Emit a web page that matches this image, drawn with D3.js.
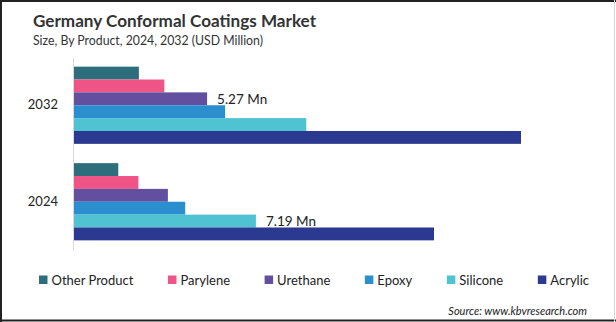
<!DOCTYPE html>
<html>
<head>
<meta charset="utf-8">
<script src="https://cdn.jsdelivr.net/npm/d3@7"></script>
<style>
  html, body { margin: 0; padding: 0; background: #fff; }
  svg { display: block; font-family: Lato, "Open Sans", sans-serif; }
</style>
</head>
<body>
<div id="chart"></div>
<script>
var width = 616;
var height = 322;

// data
var years = ["2032", "2024"];
var products = ["Other Product", "Parylene", "Urethane", "Epoxy", "Silicone", "Acrylic"];
var colors = ["#2d6e7d", "#ee5586", "#634f9f", "#2b8fcf", "#4fc3d2", "#2b3990"];
var values2032 = [2.59, 3.59, 5.27, 5.98, 9.17, 17.61];
var values2024 = [1.78, 2.57, 3.73, 4.41, 7.19, 14.19];
// which bar carries a label in each year
var labelIndex = { "2032": 2, "2024": 4 };

var svg = d3.select("#chart")
    .append("svg")
    .attr("width", width)
    .attr("height", height);

// frame
svg.append("line").attr("x1", 0).attr("x2", width).attr("y1", 1).attr("y2", 1)
    .attr("stroke", "#222").attr("stroke-width", 2);
svg.append("line").attr("x1", 1).attr("x2", 1).attr("y1", 0).attr("y2", height)
    .attr("stroke", "#222").attr("stroke-width", 2);
svg.append("line").attr("x1", 0).attr("x2", width).attr("y1", 320.5).attr("y2", 320.5)
    .attr("stroke", "#222").attr("stroke-width", 2);
svg.append("line").attr("x1", 614.5).attr("x2", 614.5).attr("y1", 0).attr("y2", height)
    .attr("stroke", "#d6d6d6").attr("stroke-width", 1);

// titles
svg.append("text")
    .attr("x", 33).attr("y", 27)
    .attr("font-size", 17).attr("font-weight", "bold").attr("fill", "#333")
    .attr("textLength", 283).attr("lengthAdjust", "spacingAndGlyphs")
    .text("Germany Conformal Coatings Market");
svg.append("text")
    .attr("x", 33).attr("y", 45)
    .attr("font-size", 13).attr("fill", "#333")
    .attr("textLength", 230).attr("lengthAdjust", "spacingAndGlyphs")
    .text("Size, By Product, 2024, 2032 (USD Million)");

var x = d3.scaleLinear().domain([0, 20]).range([73, 581.8]);
var y = d3.scaleBand().domain(years).range([57, 250]).paddingInner(0.2).paddingOuter(0.1);
var ySub = d3.scaleBand().domain(products).range([0, y.bandwidth()]);
var color = d3.scaleOrdinal().domain(products).range(colors);

var rows = years.map(function(yr){
    var vals = yr === "2032" ? values2032 : values2024;
    return { year: yr, items: products.map(function(p, i){ return { product: p, value: vals[i], i: i }; }) };
});

var groups = svg.append("g").attr("id", "bars")
    .selectAll("g")
    .data(rows)
    .enter()
        .append("g")
        .attr("transform", function(d){ return "translate(0," + y(d.year) + ")"; });

groups.selectAll("rect")
    .data(function(d){ return d.items; })
    .enter()
        .append("rect")
        .attr("x", x(0))
        .attr("y", function(d){ return ySub(d.product); })
        .attr("width", function(d){ return x(d.value) - x(0); })
        .attr("height", ySub.bandwidth())
        .attr("fill", function(d){ return color(d.product); });

groups.append("text")
    .attr("x", function(d){ return x(d.items[labelIndex[d.year]].value) + 10; })
    .attr("y", function(d){ return ySub(products[labelIndex[d.year]]) + ySub.bandwidth() / 2; })
    .attr("dy", "0.35em")
    .attr("font-size", 13.5).attr("fill", "#222")
    .text(function(d){ return d.items[labelIndex[d.year]].value + " Mn"; });

// y axis
var yAxis = svg.append("g")
    .attr("transform", "translate(" + x(0) + ",0)")
    .call(d3.axisLeft(y).tickSize(0).tickPadding(15));
yAxis.select(".domain").attr("stroke", "#d9d9d9");
yAxis.selectAll("text").attr("font-size", 13).attr("fill", "#222")
    .attr("font-family", "Lato, 'Open Sans', sans-serif");

// legend: flow layout stretched between 39 and 589
var legend = svg.append("g").attr("id", "legend");
var items = legend.selectAll("g")
    .data(products)
    .enter()
        .append("g");
items.append("rect")
    .attr("width", 8.5).attr("height", 8.5)
    .attr("y", 275.5)
    .attr("fill", function(d){ return color(d); });
items.append("text")
    .attr("x", 12.5).attr("y", 280)
    .attr("dy", "0.35em")
    .attr("font-size", 13).attr("fill", "#222")
    .text(function(d){ return d; });

var widths = [];
items.select("text").each(function(){ widths.push(12.5 + this.getComputedTextLength()); });
var total = d3.sum(widths);
var gap = (589 - 39 - total) / (products.length - 1);
var cur = 39;
items.attr("transform", function(d, i){
    var t = "translate(" + cur + ",0)";
    cur += widths[i] + gap;
    return t;
});

svg.append("text")
    .attr("x", 587).attr("y", 311)
    .attr("dy", "0.35em")
    .attr("text-anchor", "end")
    .attr("font-size", 11).attr("font-style", "italic").attr("fill", "#222")
    .text("Source: www.kbvresearch.com");
</script>
</body>
</html>
